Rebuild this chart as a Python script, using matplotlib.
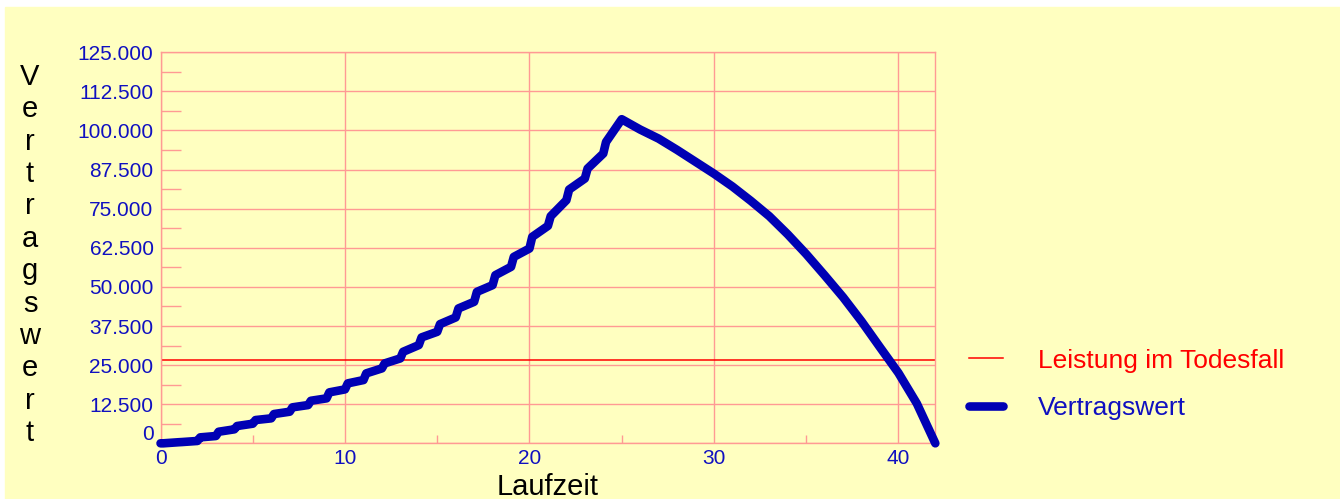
import numpy as np
import matplotlib
matplotlib.use('Agg')
import matplotlib.pyplot as plt
from matplotlib.patches import Rectangle
from matplotlib.transforms import ScaledTranslation

# Ansparphase: Wert je Jahr vor und nach der Beitragszahlung
years_up = list(range(26))
value_before = [0, 350, 750, 2330, 4470, 6270, 7980, 10100, 12230, 14370,
                17240, 20220, 23950, 27150, 31400, 35650, 40240, 45230, 50560,
                56410, 62280, 69500, 77700, 84640, 92630, 103600]
value_after = [0, 400, 1900, 3700, 5530, 7440, 9360, 11500, 13600, 16290,
               19160, 22360, 25550, 29260, 33860, 38100, 43120, 48420, 53750,
               59600, 66000, 72600, 81130, 87830, 96330]

# Auszahlphase
years_down = list(range(25, 43))
value_down = [103600, 100300, 97400, 93800, 90000, 86200, 82100, 77500, 72600,
              66800, 60500, 53700, 46700, 39000, 30700, 22500, 12700, 0]

death_benefit = 26500

xticks = [0, 10, 20, 30, 40]
yticks = list(range(0, 125001, 12500))

yellow = '#FFFFC0'
gridc = '#FF9A94'
blue = '#0000B4'
tickblue = '#1010C0'

plt.rcParams['font.family'] = ['Liberation Sans', 'DejaVu Sans']


def fmt_de(v):
    return '{:,.0f}'.format(v).replace(',', '.')


def main():
    fig = plt.figure(figsize=(13.4, 4.99), dpi=100, facecolor='white')
    fig.patches.append(Rectangle((5/1340., 0), 1 - 5/1340., 1 - 7/499.,
                                 transform=fig.transFigure, color=yellow, zorder=-10))
    ax = fig.add_axes([0.1198, 0.1116, 0.698 - 0.1198, 0.8952 - 0.1116])
    ax.set_facecolor(yellow)

    # treppenfoermiger Verlauf: Zahlung jeweils kurz nach Jahresbeginn
    step = 0.15
    t, v = [], []
    for k in years_up[:-1]:
        t += [k, k + step]
        v += [value_before[k], value_after[k]]
    t += years_down
    v += value_down

    ax.axhline(death_benefit, color='red', lw=1.1, zorder=2, label='Leistung im Todesfall')
    ax.plot(t, v, color=blue, lw=6.2, solid_joinstyle='round', solid_capstyle='round',
            zorder=3, label='Vertragswert', clip_on=False)

    ax.set_xlim(0, 42)
    ax.set_ylim(0, 125000)
    ax.set_xticks(xticks)
    ax.set_xticks([5, 15, 25, 35], minor=True)
    ax.set_yticks(yticks)
    ax.set_yticklabels([fmt_de(y) for y in yticks])
    ax.set_yticks([y + 6250 for y in yticks[:-1]], minor=True)
    ax.grid(True, which='major', color=gridc, lw=1)
    for s in ax.spines.values():
        s.set_color(gridc)
        s.set_linewidth(1)

    ax.tick_params(which='major', length=0, labelsize=15, labelcolor=tickblue)
    ax.tick_params(axis='y', which='major', pad=5)
    ax.tick_params(axis='x', which='major', pad=4)
    ax.tick_params(axis='y', which='minor', direction='in', length=14.4, width=1, color=gridc)
    ax.tick_params(axis='x', which='minor', direction='in', length=5.8, width=1, color=gridc)

    # "0" an der y-Achse sitzt etwas hoeher
    lab0 = ax.get_yticklabels()[0]
    lab0.set_transform(lab0.get_transform() + ScaledTranslation(0, 0.11, fig.dpi_scale_trans))

    ax.set_xlabel('Laufzeit', fontsize=21, labelpad=4)
    fig.text(0.0224, 1 - 255/499., '\n'.join('Vertragswert'), ha='center', va='center',
             fontsize=21, linespacing=1.2)

    leg = ax.legend(loc='center left', bbox_to_anchor=(969/1340., 1 - 384.5/499.),
                    bbox_transform=fig.transFigure, frameon=False, fontsize=19,
                    borderpad=0, borderaxespad=0, handlelength=1.3, handletextpad=1.3,
                    labelspacing=0.9)
    for txt, ln in zip(leg.get_texts(), leg.get_lines()):
        txt.set_color('red' if ln.get_color() == 'red' else tickblue)

    fig.savefig('out.png', dpi=100, facecolor=fig.get_facecolor())


if __name__ == "__main__":
    main()
